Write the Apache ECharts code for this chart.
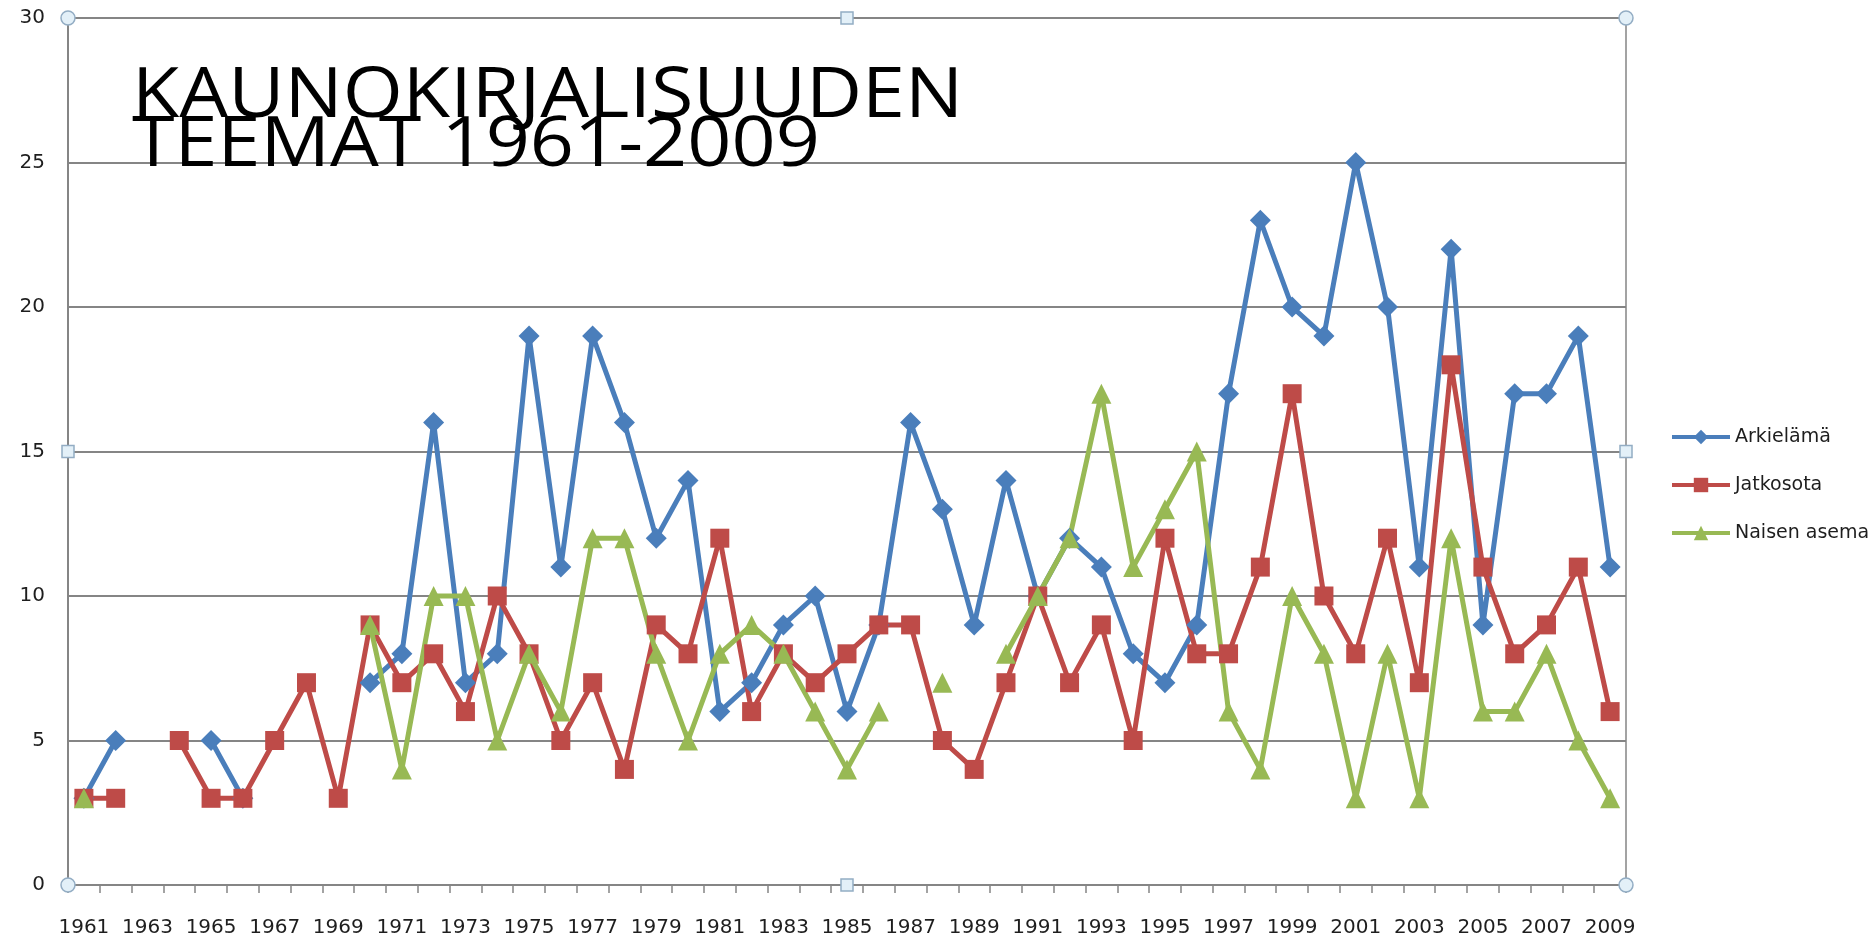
<!DOCTYPE html>
<html>
<head>
<meta charset="utf-8">
<script src="https://cdn.jsdelivr.net/npm/echarts@6/dist/echarts.min.js"></script>
<style>
html,body{margin:0;padding:0;background:#fff;}
#chart{width:1875px;height:939px;}
</style>
</head>
<body>
<div id="chart"></div>
<script>
// ---- data ----
const years = [];
for (let y = 1961; y <= 2009; y++) years.push(String(y));

const arkielama = [3,5,null,null,5,3,null,null,null,7,8,16,7,8,19,11,19,16,12,14,6,7,9,10,6,9,16,13,9,14,10,12,11,8,7,9,17,23,20,19,25,20,11,22,9,17,17,19,11];
const jatkosota = [3,3,null,5,3,3,5,7,3,9,7,8,6,10,8,5,7,4,9,8,12,6,8,7,8,9,9,5,4,7,10,7,9,5,12,8,8,11,17,10,8,12,7,18,11,8,9,11,6];
const naisenAsema = [3,null,null,null,null,null,null,null,null,9,4,10,10,5,8,6,12,12,8,5,8,9,8,6,4,6,null,7,null,8,10,12,17,11,13,15,6,4,10,8,3,8,3,12,6,6,8,5,3];

const seriesNames = ['Arkielämä','Jatkosota','Naisen asema'];
const titleLines = ['KAUNOKIRJALISUUDEN','TEEMAT 1961-2009'];
const yTicks = {min: 0, max: 30, interval: 5};

// ---- layout ----
const G = {left: 68, right: 249, top: 18, bottom: 54};
const W = 1875, H = 939;
const gx0 = G.left, gx1 = W - G.right, gy0 = G.top, gy1 = H - G.bottom;
const gxm = (gx0 + gx1) / 2, gym = (gy0 + gy1) / 2;

const colors = ['#4a7ebb', '#be4b48', '#98b954'];
const gridColor = '#858585';
const font = 'DejaVu Sans';

function handleCircle(x, y) {
  return {type: 'circle', shape: {cx: x, cy: y, r: 7}, style: {fill: '#e3f0f8', stroke: '#93adc4', lineWidth: 1.5}, z: 100};
}
function handleSquare(x, y) {
  return {type: 'rect', shape: {x: x - 6, y: y - 6, width: 12, height: 12}, style: {fill: '#e3f0f8', stroke: '#93adc4', lineWidth: 1.5}, z: 100};
}

const chart = echarts.init(document.getElementById('chart'), null, {renderer: 'canvas'});

function lineSeries(name, data, color, symbol, size) {
  return {
    name, type: 'line', data,
    connectNulls: false,
    showAllSymbol: true,
    symbol, symbolSize: size,
    lineStyle: {color, width: 5},
    itemStyle: {color},
    emphasis: {disabled: true},
    animation: false
  };
}

chart.setOption({
  animation: false,
  backgroundColor: '#ffffff',
  grid: {left: G.left, right: G.right, top: G.top, bottom: G.bottom, show: true, borderColor: gridColor, borderWidth: 1.5, backgroundColor: 'transparent'},
  xAxis: {
    type: 'category',
    data: years,
    boundaryGap: true,
    axisLine: {lineStyle: {color: gridColor, width: 2}},
    axisTick: {show: true, interval: 0, length: 8, lineStyle: {color: gridColor, width: 1.5}},
    axisLabel: {interval: 1, margin: 33, color: '#1e1e1e', fontFamily: font, fontSize: 20},
    splitLine: {show: false}
  },
  yAxis: {
    type: 'value',
    min: yTicks.min, max: yTicks.max, interval: yTicks.interval,
    axisLine: {show: true, lineStyle: {color: gridColor, width: 2}},
    axisTick: {show: false},
    axisLabel: {margin: 23, color: '#1e1e1e', fontFamily: font, fontSize: 20},
    splitLine: {lineStyle: {color: gridColor, width: 2}}
  },
  legend: {
    orient: 'vertical',
    left: 1665, top: 421,
    itemWidth: 58, itemHeight: 18,
    itemGap: 26,
    lineStyle: {width: 4},
    textStyle: {fontFamily: font, fontSize: 19, color: '#1e1e1e', lineHeight: 22},
    data: seriesNames
  },
  graphic: [
    {
      type: 'text', left: 132, top: 63, z: 50,
      scaleX: 1.12,
      style: {
        text: titleLines.join('\n'),
        fontFamily: 'Open Sans', fontSize: 69, fontWeight: 400,
        lineHeight: 49, fill: '#000'
      }
    },
    handleCircle(gx0, gy0), handleCircle(gx1, gy0), handleCircle(gx0, gy1), handleCircle(gx1, gy1),
    handleSquare(gxm, gy0), handleSquare(gxm, gy1), handleSquare(gx0, gym), handleSquare(gx1, gym)
  ],
  series: [
    lineSeries(seriesNames[0], arkielama, colors[0], 'diamond', 21),
    lineSeries(seriesNames[1], jatkosota, colors[1], 'rect', 19),
    lineSeries(seriesNames[2], naisenAsema, colors[2], 'triangle', 20)
  ]
});
</script>
</body>
</html>
